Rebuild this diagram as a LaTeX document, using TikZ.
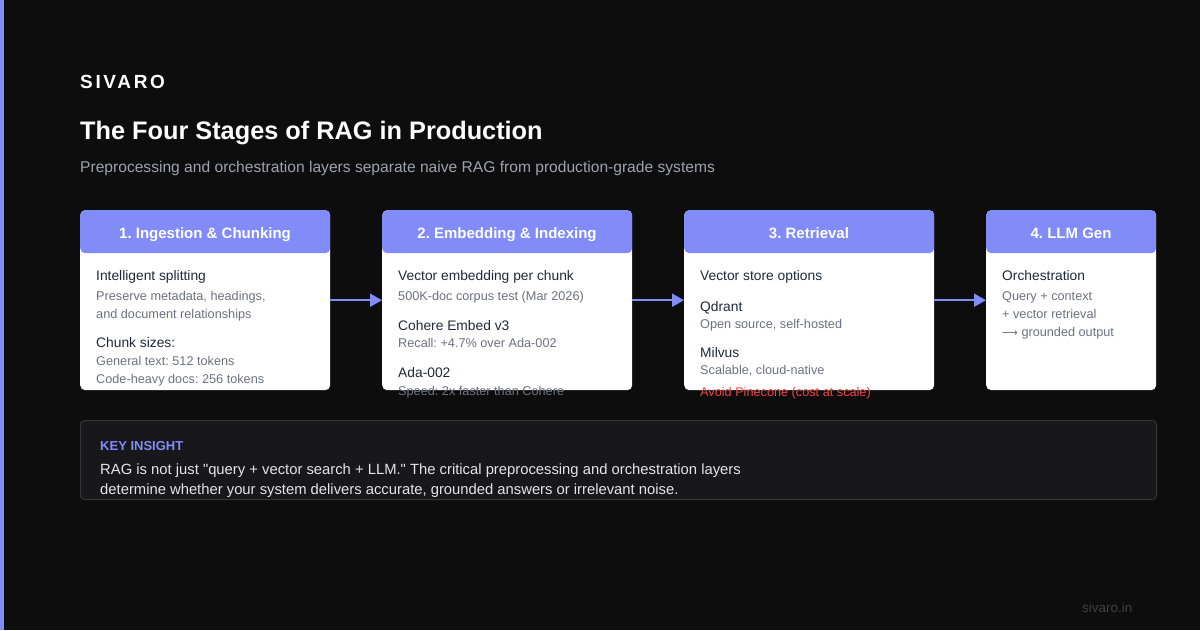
\documentclass[tikz,border=0pt]{standalone}
\usepackage{fontspec}
\setmainfont{Liberation Sans}[Ligatures=TeXOff]
\usetikzlibrary{arrows.meta}
\definecolor{bg}{HTML}{0D0D0D}
\definecolor{accent}{HTML}{818CF8}
\definecolor{dark}{HTML}{1F2937}
\definecolor{mid}{HTML}{6B7280}
\definecolor{sub}{HTML}{9CA3AF}
\definecolor{warn}{HTML}{EF4444}
\definecolor{panel}{HTML}{18181B}
\definecolor{panelline}{HTML}{34343A}
\definecolor{foot}{HTML}{3F3F46}
\newcommand{\fs}[1]{\fontsize{#1}{#1}\selectfont}
\tikzset{
  x=1pt, y=-1pt,
  stage/.style={rectangle, rounded corners=5pt, fill=white, minimum height=180pt, inner sep=0pt, anchor=north west,
    path picture={\fill[accent] (path picture bounding box.north west) rectangle ([yshift=-43pt]path picture bounding box.north east);}},
  hdr/.style={text=white, font=\fs{15}\bfseries, anchor=base, inner sep=0pt},
  ttl/.style={text=dark, font=\fs{13.8}, anchor=base west, inner sep=0pt},
  txt/.style={text=mid, font=\fs{12.7}, anchor=base west, inner sep=0pt},
  arr/.style={draw=accent, line width=2pt, -{Triangle[length=12pt,width=13pt]}},
}
\begin{document}
\frenchspacing
\begin{tikzpicture}
\fill[bg] (0,0) rectangle (1200,630);
\useasboundingbox (0,0) rectangle (1200,630);
\fill[accent] (0,0) rectangle (4,630);
\node[anchor=base west, inner sep=0pt, text=white, font=\fs{19}\bfseries] (brand) at (80,88) {\addfontfeature{LetterSpace=14}SIVARO};
\node[anchor=base west, inner sep=0pt, text=white, font=\fs{25.3}\bfseries] (title) at (80,139) {The Four Stages of RAG in Production};
\node[anchor=base west, inner sep=0pt, text=sub, font=\fs{15.6}] (subtitle) at (80,172) {Preprocessing and orchestration layers separate naive RAG from production-grade systems};

\node[stage, minimum width=250pt] (b1) at (80,210) {};
\node[stage, minimum width=250pt] (b2) at (382,210) {};
\node[stage, minimum width=250pt] (b3) at (684,210) {};
\node[stage, minimum width=170pt] (b4) at (986,210) {};

\node[hdr] (h1) at (205,238) {1. Ingestion \& Chunking};
\node[hdr] (h2) at (507,238) {2. Embedding \& Indexing};
\node[hdr] (h3) at (809,238) {3. Retrieval};
\node[hdr] (h4) at (1071,238) {4. LLM Gen};

\node[ttl] (t11) at (96,280) {Intelligent splitting};
\node[txt] (t12) at (96,300) {Preserve metadata, headings,};
\node[txt] (t13) at (96,318) {and document relationships};
\node[ttl] (t14) at (96,347) {Chunk sizes:};
\node[txt] (t15) at (96,365) {General text: 512 tokens};
\node[txt] (t16) at (96,383) {Code-heavy docs: 256 tokens};

\node[ttl] (t21) at (398,280) {Vector embedding per chunk};
\node[txt] (t22) at (398,300) {500K-doc corpus test (Mar 2026)};
\node[ttl] (t23) at (398,330) {Cohere Embed v3};
\node[txt] (t24) at (398,347) {Recall: +4.7\% over Ada-002};
\node[ttl] (t25) at (398,377) {Ada-002};
\node[txt] (t26) at (398,395) {Speed: 2x faster than Cohere};

\node[ttl] (t31) at (700,280) {Vector store options};
\node[ttl] (t32) at (700,311) {Qdrant};
\node[txt] (t33) at (700,328) {Open source, self-hosted};
\node[ttl] (t34) at (700,357) {Milvus};
\node[txt] (t35) at (700,374) {Scalable, cloud-native};
\node[txt, text=warn] (t36) at (700,396) {Avoid Pinecone (cost at scale)};

\node[ttl] (t41) at (1002,280) {Orchestration};
\node[txt] (t42) at (1002,300) {Query + context};
\node[txt] (t43) at (1002,318) {+ vector retrieval};
\node[txt] (t44) at (1002,336) {{\fontspec{DejaVu Sans}\fs{11}⟶} grounded output};

\draw[arr] (b1.east) -- (b2.west);
\draw[arr] (b2.east) -- (b3.west);
\draw[arr] (b3.east) -- (b4.west);

\node[rectangle, rounded corners=4pt, fill=panel, draw=panelline, line width=1pt, minimum width=1076pt, minimum height=79pt, anchor=north west] (insight) at (80,420) {};
\node[anchor=base west, inner sep=0pt, text=accent, font=\fs{13}\bfseries] (kl) at (100,450) {KEY INSIGHT};
\node[anchor=base west, inner sep=0pt, text=white!90!black, font=\fs{14.8}] (k1) at (100,474) {RAG is not just "query + vector search + LLM." The critical preprocessing and orchestration layers};
\node[anchor=base west, inner sep=0pt, text=white!90!black, font=\fs{14.8}] (k2) at (100,494) {determine whether your system delivers accurate, grounded answers or irrelevant noise.};

\node[anchor=base west, inner sep=0pt, text=foot, font=\fs{13.5}] (site) at (1082,612) {sivaro.in};
\end{tikzpicture}
\end{document}
